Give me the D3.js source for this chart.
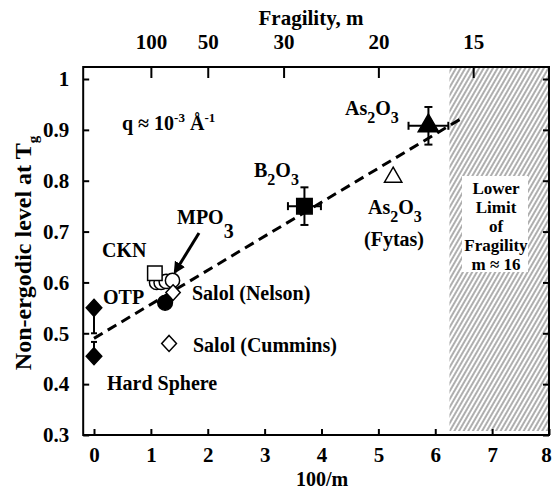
<!DOCTYPE html>
<html>
<head>
<meta charset="utf-8">
<script src="https://cdn.jsdelivr.net/npm/d3@7"></script>
<style>
  html, body { margin: 0; padding: 0; background: #fff; }
  svg text { font-family: "Liberation Serif", "Times New Roman", serif; font-weight: bold; fill: #000; }
</style>
</head>
<body>
<svg id="chart" width="554" height="496"></svg>
<script>
// ---- data ----
const xTicks = [0, 1, 2, 3, 4, 5, 6, 7, 8];
const yTicks = [0.3, 0.4, 0.5, 0.6, 0.7, 0.8, 0.9, 1];
const fragilityTicks = [100, 50, 30, 20, 15];
const hardSphere = [[0, 0.55], [0, 0.455]];
const hardSphereErr = [[0, 0.55, 0.50], [0, 0.455, 0.483]];
const otp = [[1.25, 0.56]];
const ckn = [[1.07, 0.618]];
const mpo3 = [[1.10, 0.600], [1.18, 0.600], [1.27, 0.602], [1.38, 0.604]];
const salolNelson = [[1.39, 0.58]];
const salolCummins = [[1.32, 0.48]];
const b2o3 = [[3.70, 0.75, 0.29, 0.037]];
const as2o3 = [[5.88, 0.908, 0.35, 0.037]];
const as2o3Fytas = [[5.26, 0.807]];
const fitLine = [[0, 0.49], [6.47, 0.923]];
const lowerLimit = 6.25;
const limitText = ["Lower", "Limit", "of", "Fragility", "m \u2248 16"];

// ---- scales ----
const svg = d3.select("#chart");
const x = d3.scaleLinear().domain([0, 8]).range([94, 549]);
const y = d3.scaleLinear().domain([0.3, 1]).range([435, 79]);
const xMin = -0.19, yMax = 1.0236;
const L = x(xMin), R = x(8), T = y(yMax), B = y(0.3);

// hatch pattern
const defs = svg.append("defs");
const pat = defs.append("pattern").attr("id", "hatch").attr("patternUnits", "userSpaceOnUse")
  .attr("width", 4).attr("height", 10).attr("patternTransform", "rotate(30)");
pat.append("line").attr("x1", 1).attr("y1", 0).attr("x2", 1).attr("y2", 10)
  .attr("stroke", "#333").attr("stroke-width", 0.8);

svg.append("rect").attr("x", x(lowerLimit)).attr("y", T + 1).attr("width", R - x(lowerLimit) - 1)
  .attr("height", B - T - 5).attr("fill", "url(#hatch)");

// white box behind limit text
svg.append("rect").attr("x", 462).attr("y", 176).attr("width", 66).attr("height", 96).attr("fill", "#fff");
const lt = svg.append("text").attr("text-anchor", "middle").attr("font-size", 17);
limitText.forEach((t, i) => lt.append("tspan").attr("x", 496).attr("y", 194 + i * 19).text(t));

// frame
svg.append("rect").attr("x", L).attr("y", T).attr("width", R - L).attr("height", B - T)
  .attr("fill", "none").attr("stroke", "#000").attr("stroke-width", 2);

// axes
const bottomAxis = d3.axisBottom(x).tickValues(xTicks).tickSizeInner(-6).tickSizeOuter(0).tickPadding(12);
const gB = svg.append("g").attr("transform", `translate(0,${B})`).call(bottomAxis);
const leftAxis = d3.axisLeft(y).tickValues(yTicks).tickSizeInner(-6).tickSizeOuter(0).tickPadding(14)
  .tickFormat(d => d === 1 ? "1" : d3.format(".1f")(d));
const gL = svg.append("g").attr("transform", `translate(${L},0)`).call(leftAxis);
const gR = svg.append("g").attr("transform", `translate(${R},0)`)
  .call(d3.axisRight(y).tickValues(yTicks).tickSizeInner(-6).tickSizeOuter(0).tickFormat(""));
const gT = svg.append("g").attr("transform", `translate(0,${T})`)
  .call(d3.axisTop(x).tickValues(fragilityTicks.map(m => 100 / m)).tickSizeInner(-11).tickSizeOuter(0)
    .tickPadding(18).tickFormat((d, i) => fragilityTicks[i]));
[gB, gL, gR, gT].forEach(g => {
  g.select(".domain").remove();
  g.selectAll(".tick line").attr("stroke", "#000").attr("stroke-width", 2);
  g.selectAll(".tick text").attr("font-size", 21).attr("font-family", "Liberation Serif").attr("font-weight", "bold");
});
gB.selectAll(".tick text").filter(d => d === 8).attr("dx", -3);

// axis titles
svg.append("text").attr("x", 322).attr("y", 486).attr("text-anchor", "middle").attr("font-size", 20).text("100/m");
svg.append("text").attr("x", 311).attr("y", 25).attr("text-anchor", "middle").attr("font-size", 21).text("Fragility, m");
const yt = svg.append("text").attr("transform", `translate(31,${(T + B) / 2 + 2}) rotate(-90)`)
  .attr("text-anchor", "middle").attr("font-size", 24);
yt.append("tspan").text("Non-ergodic level at T");
yt.append("tspan").attr("dy", 7).attr("font-size", 15).text("g");

// fit line
svg.append("path").datum(fitLine)
  .attr("d", d3.line().x(d => x(d[0])).y(d => y(d[1])))
  .attr("fill", "none").attr("stroke", "#000").attr("stroke-width", 3).attr("stroke-dasharray", "10,6");

// error bars
function errBars(data, capW) {
  data.forEach(d => {
    const [cx, cy, ex, ey] = d;
    const g = svg.append("g").attr("stroke", "#000").attr("stroke-width", 2);
    g.append("line").attr("x1", x(cx - ex)).attr("x2", x(cx + ex)).attr("y1", y(cy)).attr("y2", y(cy));
    g.append("line").attr("x1", x(cx)).attr("x2", x(cx)).attr("y1", y(cy - ey)).attr("y2", y(cy + ey));
    [cx - ex, cx + ex].forEach(v => g.append("line").attr("x1", x(v)).attr("x2", x(v))
      .attr("y1", y(cy) - capW).attr("y2", y(cy) + capW));
    [cy - ey, cy + ey].forEach(v => g.append("line").attr("y1", y(v)).attr("y2", y(v))
      .attr("x1", x(cx) - capW).attr("x2", x(cx) + capW));
  });
}
errBars(b2o3, 4);
errBars(as2o3, 4);
hardSphereErr.forEach(d => {
  svg.append("line").attr("x1", x(d[0])).attr("x2", x(d[0])).attr("y1", y(d[1])).attr("y2", y(d[2]))
    .attr("stroke", "#000").attr("stroke-width", 2);
  svg.append("line").attr("x1", x(d[0]) - 3).attr("x2", x(d[0]) + 3).attr("y1", y(d[2])).attr("y2", y(d[2]))
    .attr("stroke", "#000").attr("stroke-width", 2);
});

// markers
function markers(data, type, size, filled) {
  svg.append("g").selectAll("path").data(data).join("path")
    .attr("transform", d => `translate(${x(d[0])},${y(d[1])})`)
    .attr("d", d3.symbol().type(type).size(size))
    .attr("fill", filled ? "#000" : "#fff").attr("stroke", "#000").attr("stroke-width", 1.5);
}
const diamond = { draw(ctx, s) { const r = Math.sqrt(s) / 2; ctx.moveTo(0, -r * 1.2); ctx.lineTo(r * 1.1, 0); ctx.lineTo(0, r * 1.2); ctx.lineTo(-r * 1.1, 0); ctx.closePath(); } };
markers(mpo3, d3.symbolCircle, 160, false);
markers(ckn, d3.symbolSquare, 210, false);
markers(salolNelson, diamond, 170, false);
markers(salolCummins, diamond, 180, false);
markers(otp, d3.symbolCircle, 170, true);
markers(hardSphere, diamond, 200, true);
markers(b2o3, d3.symbolSquare, 240, true);
markers(as2o3, d3.symbolTriangle, 180, true);
markers(as2o3Fytas, d3.symbolTriangle, 130, false);

// labels
function label(px, py, parts, size) {
  const t = svg.append("text").attr("x", px).attr("y", py).attr("font-size", size || 20);
  let shift = 0;
  parts.forEach(p => {
    const sp = t.append("tspan").text(p[0]);
    const target = p[1] || 0;
    if (target !== shift) { sp.attr("dy", target - shift); shift = target; }
    if (p[2]) sp.attr("font-size", p[2]);
  });
  return t;
}
label(102, 257, [["CKN"]]);
label(103, 304, [["OTP"]]);
label(177, 224, [["MPO"], ["3", 14]]);
label(192, 300, [["Salol (Nelson)"]]);
label(193, 352, [["Salol (Cummins)"]]);
label(107, 390, [["Hard Sphere"]]);
label(254, 177, [["B"], ["2", 8, 16], ["O", 0], ["3", 8, 16]]);
label(345, 115, [["As"], ["2", 8, 16], ["O", 0], ["3", 8, 16]]);
label(368, 214, [["As"], ["2", 8, 16], ["O", 0], ["3", 8, 16]]);
label(364, 246, [["(Fytas)"]]);
label(122, 130, [["q \u2248 10"], ["-3", -8, 13], [" \u00C5", 0], ["-1", -8, 13]], 20);

// arrow
defs.append("marker").attr("id", "ah").attr("viewBox", "0 0 10 10").attr("refX", 8).attr("refY", 5)
  .attr("markerWidth", 4).attr("markerHeight", 4).attr("orient", "auto")
  .append("path").attr("d", "M0,0 L10,5 L0,10 z").attr("fill", "#000");
svg.append("line").attr("x1", 199).attr("y1", 233).attr("x2", 175).attr("y2", 272)
  .attr("stroke", "#000").attr("stroke-width", 3).attr("marker-end", "url(#ah)");
</script>
</body>
</html>
